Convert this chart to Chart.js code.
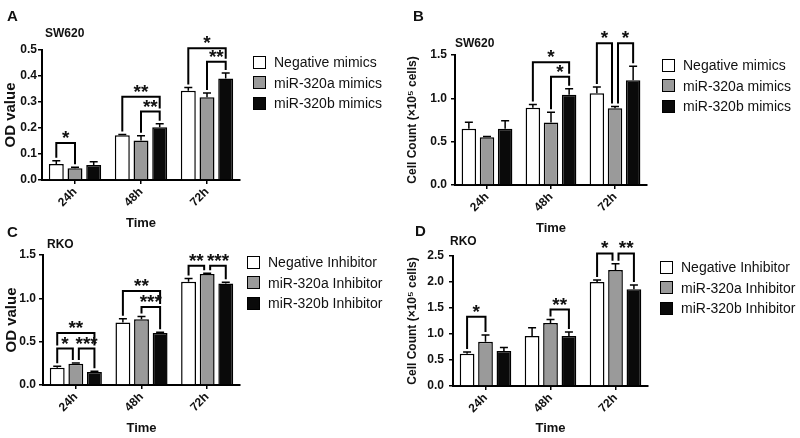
<!DOCTYPE html>
<html>
<head>
<meta charset="utf-8">
<script src="https://cdn.jsdelivr.net/npm/chart.js@4.4.0/dist/chart.umd.min.js"></script>
<style>
  body { margin: 0; background: #fff; font-family: Arial, "Liberation Sans", sans-serif; color: #111; }
  #fig { position: relative; width: 800px; height: 438px; overflow: hidden; }
  canvas { position: absolute; }
  .t { position: absolute; font-weight: bold; line-height: 1; white-space: nowrap; }
  .lg { position: absolute; font-size: 14px; }
  .lg div { height: 20.5px; display: flex; align-items: center; white-space: nowrap; }
  .lg span { display: inline-block; width: 11px; height: 11px; border: 1.5px solid #000; margin-right: 8px; }
</style>
</head>
<body>
<div id="fig">
  <canvas id="cA"></canvas>
  <canvas id="cB"></canvas>
  <canvas id="cC"></canvas>
  <canvas id="cD"></canvas>

  <div class="t" style="left:7px;top:8px;font-size:15px">A</div>
  <div class="t" style="left:45px;top:27px;font-size:12px">SW620</div>
  <div class="t" style="left:413px;top:8px;font-size:15px">B</div>
  <div class="t" style="left:455px;top:37px;font-size:12px">SW620</div>
  <div class="t" style="left:7px;top:224px;font-size:15px">C</div>
  <div class="t" style="left:47px;top:238px;font-size:12px">RKO</div>
  <div class="t" style="left:415px;top:223px;font-size:15px">D</div>
  <div class="t" style="left:450px;top:235px;font-size:12px">RKO</div>

  <div class="lg" id="lgA" style="left:253px;top:52px"></div>
  <div class="lg" id="lgB" style="left:662px;top:55px"></div>
  <div class="lg" id="lgC" style="left:247px;top:252px"></div>
  <div class="lg" id="lgD" style="left:660px;top:257px"></div>
</div>

<script>
// categories and series names
const times = ['24h', '48h', '72h'];
const mimicNames = ['Negative mimics', 'miR-320a mimics', 'miR-320b mimics'];
const inhibNames = ['Negative Inhibitor', 'miR-320a Inhibitor', 'miR-320b Inhibitor'];

// A: SW620, OD value
const aNeg = [0.062, 0.172, 0.343];
const aNegErr = [0.012, 0.003, 0.013];
const a320a = [0.045, 0.152, 0.318];
const a320aErr = [0.004, 0.018, 0.017];
const a320b = [0.058, 0.203, 0.390];
const a320bErr = [0.012, 0.013, 0.022];
// [time, from bar, to bar, height, stars]
const aSig = [[0, 0, 1, 0.142, '*'], [1, 0, 2, 0.32, '**'], [1, 1, 2, 0.263, '**'], [2, 0, 2, 0.507, '*'], [2, 1, 2, 0.455, '**']];

// B: SW620, cell count
const bNeg = [0.65, 0.89, 1.06];
const bNegErr = [0.075, 0.04, 0.07];
const b320a = [0.55, 0.72, 0.885];
const b320aErr = [0.01, 0.12, 0.02];
const b320b = [0.65, 1.04, 1.21];
const b320bErr = [0.09, 0.07, 0.16];
const bSig = [[1, 0, 2, 1.415, '*'], [1, 1, 2, 1.25, '*'], [2, 0, 1, 1.635, '*'], [2, 1, 2, 1.635, '*']];

// C: RKO, OD value
const cNeg = [0.20, 0.72, 1.19];
const cNegErr = [0.015, 0.045, 0.04];
const c320a = [0.245, 0.76, 1.28];
const c320aErr = [0.01, 0.03, 0.01];
const c320b = [0.15, 0.60, 1.17];
const c320bErr = [0.01, 0.01, 0.015];
const cSig = [[0, 0, 2, 0.6, '**'], [0, 0, 1, 0.42, '*'], [0, 1, 2, 0.42, '***'], [1, 0, 2, 1.085, '**'], [1, 1, 2, 0.9, '***'], [2, 0, 1, 1.375, '**'], [2, 1, 2, 1.375, '***']];

// D: RKO, cell count
const dNeg = [0.62, 0.96, 2.0];
const dNegErr = [0.035, 0.16, 0.04];
const d320a = [0.85, 1.21, 2.23];
const d320aErr = [0.13, 0.07, 0.12];
const d320b = [0.675, 0.96, 1.86];
const d320bErr = [0.065, 0.08, 0.08];
const dSig = [[0, 0, 1, 1.33, '*'], [1, 1, 2, 1.47, '**'], [2, 0, 1, 2.55, '*'], [2, 1, 2, 2.55, '**']];

const fills = ['#ffffff', '#9a9a9a', '#0a0a0a'];
const FONT = 'Arial, "Liberation Sans", sans-serif';
Chart.defaults.font.family = FONT;
Chart.defaults.color = '#111';

// error bars (up only) and significance brackets
function marks(sig) {
  return {
    id: 'marks',
    afterDatasetsDraw(chart) {
      const ctx = chart.ctx;
      const y = chart.scales.y;
      const ds = chart.data.datasets;
      const topOf = (i, g) => y.getPixelForValue(ds[i].data[g] + ds[i].err[g]);
      ctx.save();
      ctx.strokeStyle = '#000';
      ctx.lineWidth = 1.5;
      ds.forEach((d, i) => {
        chart.getDatasetMeta(i).data.forEach((bar, g) => {
          const t = topOf(i, g);
          ctx.beginPath();
          ctx.moveTo(bar.x, bar.y);
          ctx.lineTo(bar.x, t);
          ctx.moveTo(bar.x - 4, t);
          ctx.lineTo(bar.x + 4, t);
          ctx.stroke();
        });
      });

      ctx.lineWidth = 2;
      ctx.fillStyle = '#111';
      ctx.font = 'bold 19px ' + FONT;
      ctx.textAlign = 'center';
      ctx.textBaseline = 'alphabetic';
      sig.forEach(s => {
        const [g, a, b, v, label] = s;
        const yl = y.getPixelForValue(v);
        const others = sig.filter(o => o !== s && o[0] === g);
        let xa = chart.getDatasetMeta(a).data[g].x;
        let xb = chart.getDatasetMeta(b).data[g].x;
        // neighbouring brackets that meet on the same bar step apart
        if (others.some(o => o[2] === a)) xa += 3;
        if (others.some(o => o[1] === b)) xb -= 3;
        const legEnd = k => {
          let end = topOf(k, g) - 3;
          others.forEach(o => {
            if (o[3] < v && o[1] <= k && o[2] >= k) end = Math.min(end, y.getPixelForValue(o[3]) - 3);
          });
          return end;
        };
        ctx.beginPath();
        ctx.moveTo(xa, legEnd(a));
        ctx.lineTo(xa, yl);
        ctx.lineTo(xb, yl);
        ctx.lineTo(xb, legEnd(b));
        ctx.stroke();
        ctx.fillText(label, (xa + xb) / 2, yl + 1);
      });
      ctx.restore();
    }
  };
}

function legend(id, names) {
  const el = document.getElementById(id);
  el.innerHTML = names.map((n, i) => `<div><span style="background:${fills[i]}"></span>${n}</div>`).join('');
}

function panel(id, p) {
  const el = document.getElementById(id);
  el.width = 400;
  el.height = 240;
  el.style.left = p.x + 'px';
  el.style.top = p.y + 'px';
  const xBottom = p.timeY + 7.8 + 2;
  const series = [[p.neg, p.negErr], [p.mA, p.mAErr], [p.mB, p.mBErr]];
  new Chart(el, {
    type: 'bar',
    data: {
      labels: times,
      datasets: series.map((s, i) => ({
        label: p.names[i],
        data: s[0],
        err: s[1],
        backgroundColor: fills[i],
        borderColor: '#000',
        borderWidth: 1.5,
        categoryPercentage: 0.85,
        barPercentage: 0.8
      }))
    },
    options: {
      responsive: false,
      animation: false,
      layout: { padding: { top: p.top, left: 0, right: 400 - p.right, bottom: 240 - xBottom } },
      plugins: { legend: { display: false }, tooltip: { enabled: false } },
      scales: {
        x: {
          grid: { display: true, drawOnChartArea: false, offset: false, color: '#000', lineWidth: 1.5, tickLength: 4 },
          border: { color: '#000', width: 2 },
          ticks: { font: { weight: 'bold', size: 12 }, minRotation: 45, maxRotation: 45, padding: 1, autoSkip: false },
          title: { display: true, text: 'Time', font: { weight: 'bold', size: 13 }, padding: { top: 4, bottom: 2 } },
          afterFit: s => { s.height = xBottom - p.bottom; }
        },
        y: {
          min: 0,
          max: p.max,
          grid: { display: true, drawOnChartArea: false, color: '#000', lineWidth: 1.5, tickLength: 4 },
          border: { color: '#000', width: 2 },
          ticks: { stepSize: p.step, padding: p.tickPad, font: { weight: 'bold', size: 12 }, callback: v => v.toFixed(1) },
          title: { display: true, text: p.yTitle, font: { weight: 'bold', size: p.yTitleSize }, padding: { top: p.yTitlePad, bottom: 0 } },
          afterFit: s => { s.width = p.left; }
        }
      }
    },
    plugins: [marks(p.sig)]
  });
}

panel('cA', { x: 0, y: 0, left: 42, right: 240, top: 50, bottom: 180, timeY: 223, max: 0.5, step: 0.1, tickPad: 1,
  yTitle: 'OD value', yTitleSize: 15, yTitlePad: 2, names: mimicNames,
  neg: aNeg, negErr: aNegErr, mA: a320a, mAErr: a320aErr, mB: a320b, mBErr: a320bErr, sig: aSig });
panel('cB', { x: 400, y: 0, left: 55, right: 247, top: 55, bottom: 185, timeY: 228, max: 1.5, step: 0.5, tickPad: 4,
  yTitle: 'Cell Count (\u00d710\u2075 cells)', yTitleSize: 12, yTitlePad: 5, names: mimicNames,
  neg: bNeg, negErr: bNegErr, mA: b320a, mAErr: b320aErr, mB: b320b, mBErr: b320bErr, sig: bSig });
panel('cC', { x: 0, y: 198, left: 43, right: 240, top: 57, bottom: 187, timeY: 230, max: 1.5, step: 0.5, tickPad: 3,
  yTitle: 'OD value', yTitleSize: 15, yTitlePad: 3, names: inhibNames,
  neg: cNeg, negErr: cNegErr, mA: c320a, mAErr: c320aErr, mB: c320b, mBErr: c320bErr, sig: cSig });
panel('cD', { x: 400, y: 198, left: 53, right: 248, top: 58, bottom: 188, timeY: 230, max: 2.5, step: 0.5, tickPad: 5,
  yTitle: 'Cell Count (\u00d710\u2075 cells)', yTitleSize: 12, yTitlePad: 5, names: inhibNames,
  neg: dNeg, negErr: dNegErr, mA: d320a, mAErr: d320aErr, mB: d320b, mBErr: d320bErr, sig: dSig });

legend('lgA', mimicNames);
legend('lgB', mimicNames);
legend('lgC', inhibNames);
legend('lgD', inhibNames);
</script>
</body>
</html>
